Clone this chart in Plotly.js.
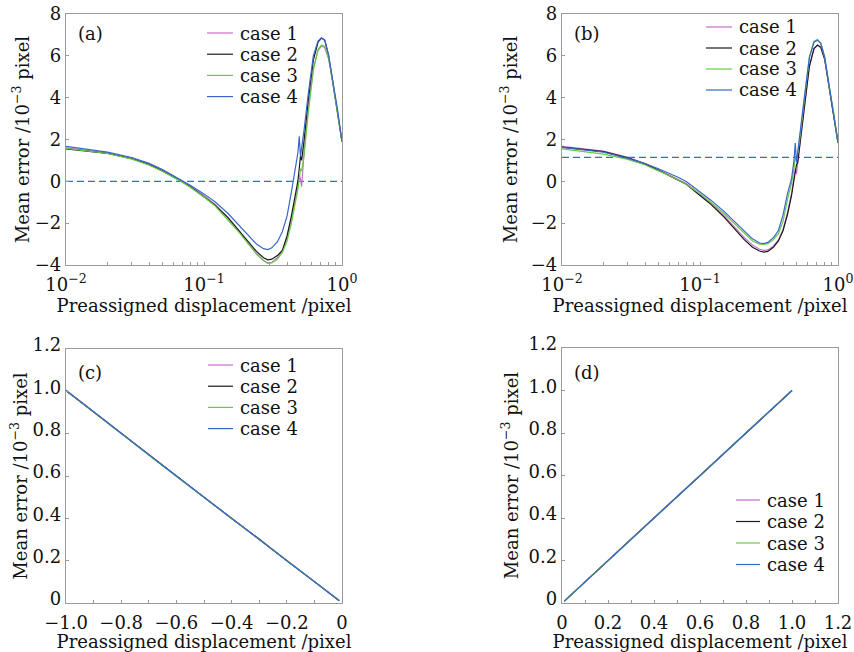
<!DOCTYPE html>
<html>
<head>
<meta charset="utf-8">
<script src="https://cdn.plot.ly/plotly-3.0.1.min.js"></script>
<style>html,body{margin:0;padding:0;background:#fff;}#chart{width:854px;height:652px;}</style>
</head>
<body>
<div id="chart"></div>
<script>
// ---------- data ----------
const caseNames = ['case 1', 'case 2', 'case 3', 'case 4'];

// panels (a) and (b): log x
const xLog = [0.01, 0.015, 0.02, 0.03, 0.04, 0.05, 0.06, 0.07, 0.08, 0.1, 0.12, 0.15, 0.18, 0.21, 0.24, 0.27, 0.29, 0.31, 0.34, 0.37, 0.4, 0.43, 0.46, 0.48, 0.49, 0.5, 0.51, 0.53, 0.57, 0.62, 0.67, 0.71, 0.75, 0.8, 0.86, 0.93, 1.0];

const a_case1 = [1.6, 1.47, 1.36, 1.1, 0.82, 0.52, 0.24, 0.0, -0.25, -0.68, -1.1, -1.78, -2.4, -2.97, -3.45, -3.78, -3.9, -3.88, -3.65, -3.3, -2.7, -1.85, -0.9, -0.2, 0.3, 0.1, -0.25, 1.3, 3.5, 5.4, 6.25, 6.46, 6.4, 5.85, 4.65, 3.3, 1.9];
const a_case2 = [1.55, 1.43, 1.33, 1.08, 0.8, 0.5, 0.22, -0.03, -0.27, -0.72, -1.13, -1.75, -2.35, -2.9, -3.35, -3.65, -3.75, -3.72, -3.55, -3.3, -2.6, -1.65, -0.7, 0.05, 0.6, 1.2, 1.0, 1.9, 3.9, 5.8, 6.65, 6.85, 6.75, 6.0, 4.7, 3.35, 1.9];
const a_case3 = [1.58, 1.45, 1.33, 1.06, 0.78, 0.48, 0.2, -0.05, -0.3, -0.75, -1.17, -1.85, -2.45, -3.0, -3.48, -3.8, -3.92, -3.9, -3.72, -3.4, -2.85, -2.0, -1.05, -0.35, 0.1, 0.6, 0.5, 1.2, 3.3, 5.3, 6.3, 6.52, 6.45, 5.9, 4.7, 3.35, 1.9];
const a_case4 = [1.67, 1.52, 1.4, 1.14, 0.86, 0.57, 0.28, 0.03, -0.2, -0.6, -0.98, -1.55, -2.1, -2.6, -3.0, -3.22, -3.26, -3.18, -2.9, -2.4, -1.65, -0.5, 0.6, 1.4, 2.15, 1.2, 1.6, 2.4, 4.2, 6.0, 6.7, 6.86, 6.75, 6.05, 4.75, 3.4, 1.9];
const a_refLevel = 0;

const b_case1 = [1.67, 1.55, 1.45, 1.15, 0.85, 0.55, 0.3, 0.08, -0.12, -0.62, -1.05, -1.65, -2.2, -2.7, -3.05, -3.25, -3.3, -3.28, -3.1, -2.8, -2.3, -1.5, -0.6, 0.1, 0.6, 0.35, 0.8, 1.8, 3.6, 5.5, 6.35, 6.5, 6.4, 5.85, 4.55, 3.25, 1.85];
const b_case2 = [1.64, 1.52, 1.42, 1.12, 0.83, 0.53, 0.28, 0.05, -0.15, -0.68, -1.1, -1.72, -2.28, -2.8, -3.15, -3.33, -3.38, -3.35, -3.15, -2.85, -2.35, -1.6, -0.7, 0.0, 0.5, 0.8, 0.9, 1.8, 3.6, 5.5, 6.35, 6.52, 6.42, 5.85, 4.55, 3.25, 1.85];
const b_case3 = [1.55, 1.42, 1.3, 1.05, 0.78, 0.5, 0.28, 0.05, -0.15, -0.6, -1.0, -1.55, -2.05, -2.5, -2.85, -3.0, -3.02, -2.98, -2.8, -2.5, -1.9, -0.9, -0.1, 0.6, 1.2, 1.0, 1.3, 2.1, 4.0, 5.95, 6.7, 6.78, 6.62, 5.95, 4.6, 3.3, 1.85];
const b_case4 = [1.62, 1.5, 1.4, 1.1, 0.85, 0.6, 0.38, 0.18, -0.02, -0.5, -0.9, -1.45, -1.95, -2.4, -2.75, -2.95, -2.98, -2.92, -2.7, -2.35, -1.6, -0.6, 0.1, 1.0, 1.83, 0.9, 1.4, 2.2, 4.0, 5.9, 6.65, 6.75, 6.6, 5.95, 4.6, 3.3, 1.85];
const b_refLevel = 1.15;

// panel (c)
const xC = [-1.0, -0.9, -0.8, -0.7, -0.6, -0.5, -0.4, -0.3, -0.2, -0.1, -0.01];
const c_case1 = [1.005, 0.903, 0.803, 0.701, 0.601, 0.499, 0.401, 0.301, 0.2, 0.1, 0.012];
const c_case2 = [1.003, 0.902, 0.801, 0.7, 0.602, 0.5, 0.399, 0.302, 0.199, 0.101, 0.011];
const c_case3 = [1.004, 0.901, 0.8, 0.699, 0.598, 0.498, 0.4, 0.3, 0.201, 0.099, 0.012];
const c_case4 = [1.005, 0.902, 0.801, 0.7, 0.6, 0.5, 0.4, 0.301, 0.2, 0.1, 0.011];

// panel (d)
const xD = [0.01, 0.1, 0.2, 0.3, 0.4, 0.5, 0.6, 0.7, 0.8, 0.9, 1.0];
const d_case1 = [0.008, 0.1, 0.2, 0.301, 0.401, 0.501, 0.6, 0.7, 0.8, 0.9, 1.0];
const d_case2 = [0.009, 0.099, 0.201, 0.3, 0.4, 0.502, 0.601, 0.699, 0.801, 0.9, 1.0];
const d_case3 = [0.008, 0.101, 0.2, 0.299, 0.4, 0.5, 0.6, 0.701, 0.802, 0.901, 0.999];
const d_case4 = [0.009, 0.1, 0.199, 0.3, 0.399, 0.5, 0.599, 0.7, 0.8, 0.9, 1.0];

// tick labels
const logTickVals = [0.01, 0.1, 1];
const logTickText = ['10<sup>−2</sup>', '10<sup>−1</sup>', '10<sup>0</sup>'];
const logMinorVals = [0.02, 0.03, 0.04, 0.05, 0.06, 0.07, 0.08, 0.09, 0.2, 0.3, 0.4, 0.5, 0.6, 0.7, 0.8, 0.9];
const abYTickVals = [-4, -2, 0, 2, 4, 6, 8];
const cdYTickVals = [0, 0.2, 0.4, 0.6, 0.8, 1.0, 1.2];
const cdYTickText = ['0', '0.2', '0.4', '0.6', '0.8', '1.0', '1.2'];
const cXTickVals = [-1.0, -0.8, -0.6, -0.4, -0.2, 0];
const cXTickText = ['−1.0', '−0.8', '−0.6', '−0.4', '−0.2', '0'];
const cXMinorVals = [-0.9, -0.7, -0.5, -0.3, -0.1];
const dXTickVals = [0, 0.2, 0.4, 0.6, 0.8, 1.0, 1.2];
const dXTickText = ['0', '0.2', '0.4', '0.6', '0.8', '1.0', '1.2'];
const dXMinorVals = [0.1, 0.3, 0.5, 0.7, 0.9, 1.1];

const xTitle = 'Preassigned displacement /pixel';
const yTitle = 'Mean error /10<sup>−3</sup> pixel';
const panelLabels = ['(a)', '(b)', '(c)', '(d)'];

// ---------- styles ----------
const colors = ['#c96ccc', '#1a1a1a', '#66cc44', '#3a66c8'];
const FONT = '"DejaVu Serif", "Liberation Serif", serif';
const W = 854, H = 652;
const px = v => v / W;
const py = v => 1 - v / H;

const traces = [];
function addPanel(xs, ys, xa, ya) {
  ys.forEach((y, i) => {
    traces.push({x: xs, y: y, type: 'scatter', mode: 'lines', name: caseNames[i],
      xaxis: xa, yaxis: ya, showlegend: false,
      line: {color: colors[i], width: 1.2}});
  });
}
// dashed reference lines
traces.push({x: [xLog[0], xLog[xLog.length - 1]], y: [a_refLevel, a_refLevel], type: 'scatter', mode: 'lines',
  xaxis: 'x', yaxis: 'y', showlegend: false, line: {color: '#2f72c4', width: 1.3, dash: '7px,4px'}});
traces.push({x: [xLog[0], xLog[xLog.length - 1]], y: [b_refLevel, b_refLevel], type: 'scatter', mode: 'lines',
  xaxis: 'x2', yaxis: 'y2', showlegend: false, line: {color: '#2f72c4', width: 1.3, dash: '7px,4px'}});
addPanel(xLog, [a_case1, a_case2, a_case3, a_case4], 'x', 'y');
addPanel(xLog, [b_case1, b_case2, b_case3, b_case4], 'x2', 'y2');
addPanel(xC, [c_case1, c_case2, c_case3, c_case4], 'x3', 'y3');
addPanel(xD, [d_case1, d_case2, d_case3, d_case4], 'x4', 'y4');

const tickFont = {family: FONT, size: 18, color: '#111'};
const titleFont = {family: FONT, size: 18, color: '#111'};
function axisBase(extra) {
  return Object.assign({
    showline: true, mirror: true, linecolor: '#9a9a9a', linewidth: 1.2,
    ticks: 'inside', ticklen: 3, tickcolor: '#9a9a9a', tickwidth: 1,
    showgrid: false, zeroline: false, tickfont: tickFont, fixedrange: true
  }, extra);
}
function minorTicks(vals) {
  return {tickmode: 'array', tickvals: vals, ticks: 'inside', ticklen: 3, tickcolor: '#9a9a9a', tickwidth: 1, showgrid: false};
}

// panel boxes in pixels [left, right, top, bottom]
const boxes = [[66, 342, 14, 265], [562, 838, 14, 265], [66, 342, 349, 603], [562, 838, 348, 603]];

const layout = {
  width: W, height: H, margin: {l: 0, r: 0, t: 0, b: 0},
  paper_bgcolor: '#fff', plot_bgcolor: '#fff', showlegend: false,
  xaxis: axisBase({type: 'log', range: [-2, 0], domain: [px(boxes[0][0]), px(boxes[0][1])], anchor: 'y',
    tickmode: 'array', tickvals: logTickVals, ticktext: logTickText, ticklabelstandoff: 3,
    minor: minorTicks(logMinorVals),
    title: {text: xTitle, font: titleFont, standoff: 0}}),
  yaxis: axisBase({range: [-4, 8], domain: [py(boxes[0][3]), py(boxes[0][2])], anchor: 'x',
    tickmode: 'array', tickvals: abYTickVals, title: {text: yTitle, font: titleFont, standoff: 0}}),
  xaxis2: axisBase({type: 'log', range: [-2, 0], domain: [px(boxes[1][0]), px(boxes[1][1])], anchor: 'y2',
    tickmode: 'array', tickvals: logTickVals, ticktext: logTickText, ticklabelstandoff: 3,
    minor: minorTicks(logMinorVals),
    title: {text: xTitle, font: titleFont, standoff: 0}}),
  yaxis2: axisBase({range: [-4, 8], domain: [py(boxes[1][3]), py(boxes[1][2])], anchor: 'x2',
    tickmode: 'array', tickvals: abYTickVals, title: {text: yTitle, font: titleFont, standoff: 8}}),
  xaxis3: axisBase({range: [-1, 0], domain: [px(boxes[2][0]), px(boxes[2][1])], anchor: 'y3',
    tickmode: 'array', tickvals: cXTickVals, ticktext: cXTickText, ticklabelstandoff: 3,
    minor: minorTicks(cXMinorVals),
    title: {text: xTitle, font: titleFont, standoff: 4}}),
  yaxis3: axisBase({range: [0, 1.2], domain: [py(boxes[2][3]), py(boxes[2][2])], anchor: 'x3',
    tickmode: 'array', tickvals: cdYTickVals, ticktext: cdYTickText, ticklabelshift: -4,
    title: {text: yTitle, font: titleFont, standoff: 0}}),
  xaxis4: axisBase({range: [0, 1.2], domain: [px(boxes[3][0]), px(boxes[3][1])], anchor: 'y4',
    tickmode: 'array', tickvals: dXTickVals, ticktext: dXTickText, ticklabelstandoff: 3,
    minor: minorTicks(dXMinorVals),
    title: {text: xTitle, font: titleFont, standoff: 4}}),
  yaxis4: axisBase({range: [0, 1.2], domain: [py(boxes[3][3]), py(boxes[3][2])], anchor: 'x4',
    tickmode: 'array', tickvals: cdYTickVals, ticktext: cdYTickText, ticklabelshift: -4,
    title: {text: yTitle, font: titleFont, standoff: 5}}),
  annotations: [], shapes: []
};

// panel labels
const labelPos = [[76, 33], [572, 33], [76, 372], [572, 372]];
panelLabels.forEach((t, i) => {
  layout.annotations.push({text: t, xref: 'paper', yref: 'paper', x: px(labelPos[i][0]), y: py(labelPos[i][1]),
    xanchor: 'left', yanchor: 'middle', showarrow: false, font: {family: FONT, size: 18, color: '#111'}});
});

// legends: [lineLeft, lineRight, textLeft, firstRowY, rowGap]
const legendPos = [[207, 233, 238, 33, 21.2], [706, 732, 737, 27, 21], [208, 233, 238, 365, 21.2], [736, 760, 765, 500, 21.5]];
legendPos.forEach(lp => {
  caseNames.forEach((name, i) => {
    const yy = lp[3] + i * lp[4];
    layout.shapes.push({type: 'line', xref: 'paper', yref: 'paper', x0: px(lp[0]), x1: px(lp[1]), y0: py(yy), y1: py(yy),
      line: {color: colors[i], width: 1.2}});
    layout.annotations.push({text: name, xref: 'paper', yref: 'paper', x: px(lp[2]), y: py(yy),
      xanchor: 'left', yanchor: 'middle', showarrow: false, font: {family: FONT, size: 18, color: '#111'}});
  });
});

Plotly.newPlot('chart', traces, layout, {staticPlot: true, displayModeBar: false});
</script>
</body>
</html>
